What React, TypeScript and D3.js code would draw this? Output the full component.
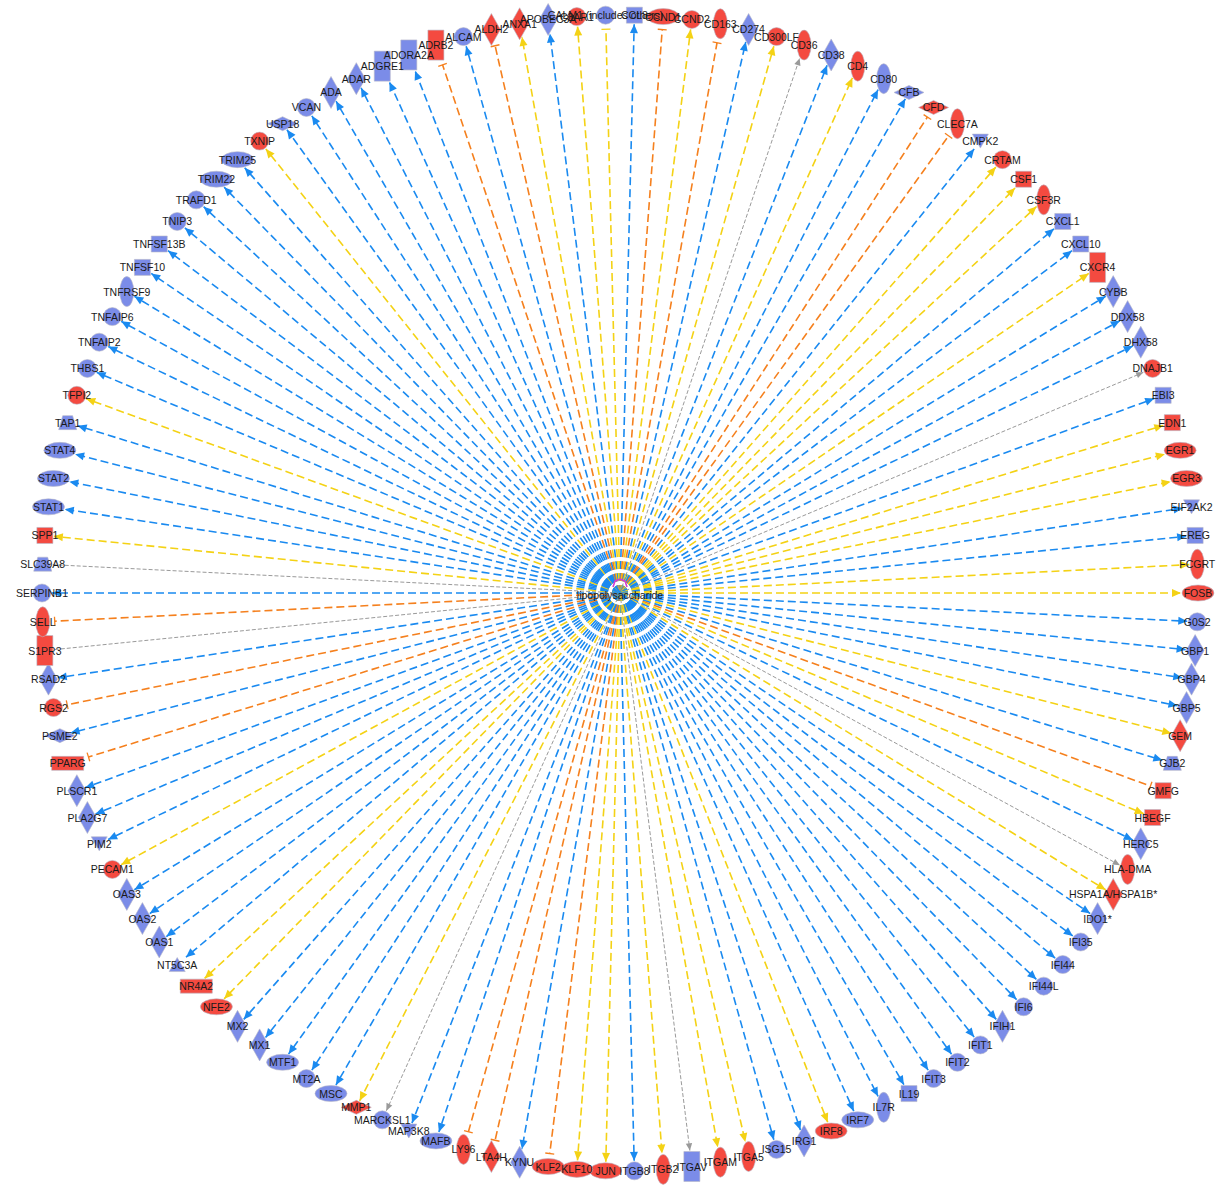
import React, { useEffect, useRef } from 'react';
import * as d3 from 'd3';

// nodes clockwise, starting at ADA (upper left)
const genes = [
  'ADA', 'ADAR', 'ADGRE1', 'ADORA2A', 'ADRB2', 'ALCAM', 'ALDH2', 'ANXA1', 'APOBEC3A', 'C3AR1',
  'CALM1 (includes others)', 'CCL8', 'CCND1', 'CCND2', 'CD163', 'CD274', 'CD300LF', 'CD36', 'CD38', 'CD4',
  'CD80', 'CFB', 'CFD', 'CLEC7A', 'CMPK2', 'CRTAM', 'CSF1', 'CSF3R', 'CXCL1', 'CXCL10',
  'CXCR4', 'CYBB', 'DDX58', 'DHX58', 'DNAJB1', 'EBI3', 'EDN1', 'EGR1', 'EGR3', 'EIF2AK2',
  'EREG', 'FCGRT', 'FOSB', 'G0S2', 'GBP1', 'GBP4', 'GBP5', 'GEM', 'GJB2', 'GMFG',
  'HBEGF', 'HERC5', 'HLA-DMA', 'HSPA1A/HSPA1B*', 'IDO1*', 'IFI35', 'IFI44', 'IFI44L', 'IFI6', 'IFIH1',
  'IFIT1', 'IFIT2', 'IFIT3', 'IL19', 'IL7R', 'IRF7', 'IRF8', 'IRG1', 'ISG15', 'ITGA5',
  'ITGAM', 'ITGAV', 'ITGB2', 'ITGB8', 'JUN', 'KLF10', 'KLF2', 'KYNU', 'LTA4H', 'LY96',
  'MAFB', 'MAP3K8', 'MARCKSL1', 'MMP1', 'MSC', 'MT2A', 'MTF1', 'MX1', 'MX2', 'NFE2',
  'NR4A2', 'NT5C3A', 'OAS1', 'OAS2', 'OAS3', 'PECAM1', 'PIM2', 'PLA2G7', 'PLSCR1', 'PPARG',
  'PSME2', 'RGS2', 'RSAD2', 'S1PR3', 'SELL', 'SERPINB1', 'SLC39A8', 'SPP1', 'STAT1', 'STAT2',
  'STAT4', 'TAP1', 'TFPI2', 'THBS1', 'TNFAIP2', 'TNFAIP6', 'TNFRSF9', 'TNFSF10', 'TNFSF13B', 'TNIP3',
  'TRAFD1', 'TRIM22', 'TRIM25', 'TXNIP', 'USP18', 'VCAN',
];

// u = up (red), d = down (blue)
const regulation = [
  'd', 'd', 'd', 'd', 'u', 'd', 'u', 'u', 'd', 'u',
  'd', 'd', 'u', 'u', 'u', 'd', 'u', 'u', 'd', 'u',
  'd', 'd', 'u', 'u', 'd', 'u', 'u', 'u', 'd', 'd',
  'u', 'd', 'd', 'd', 'u', 'd', 'u', 'u', 'u', 'd',
  'd', 'u', 'u', 'd', 'd', 'd', 'd', 'u', 'd', 'u',
  'u', 'd', 'u', 'u', 'd', 'd', 'd', 'd', 'd', 'd',
  'd', 'd', 'd', 'd', 'd', 'd', 'u', 'd', 'd', 'u',
  'u', 'd', 'u', 'd', 'u', 'u', 'u', 'd', 'u', 'u',
  'd', 'd', 'd', 'u', 'd', 'd', 'd', 'd', 'd', 'u',
  'u', 'd', 'd', 'd', 'd', 'u', 'd', 'd', 'd', 'u',
  'd', 'u', 'd', 'u', 'u', 'd', 'd', 'u', 'd', 'd',
  'd', 'd', 'u', 'd', 'd', 'd', 'd', 'd', 'd', 'd',
  'd', 'd', 'd', 'u', 'd', 'd',
];

// c circle, d diamond, hd flat diamond, vr/hr rectangles, sq square,
// vo/ho ovals, td/tu triangles, tz trapezoid
const shapes = [
  'd', 'd', 'vr', 'vr', 'vr', 'c', 'd', 'd', 'd', 'c',
  'c', 'sq', 'ho', 'c', 'vo', 'd', 'c', 'vo', 'd', 'vo',
  'vo', 'hd', 'hd', 'vo', 'td', 'c', 'sq', 'vo', 'sq', 'sq',
  'vr', 'd', 'd', 'd', 'c', 'sq', 'sq', 'ho', 'ho', 'td',
  'sq', 'vo', 'ho', 'c', 'd', 'd', 'd', 'd', 'tz', 'sq',
  'sq', 'd', 'vo', 'd', 'd', 'c', 'c', 'c', 'c', 'd',
  'c', 'c', 'c', 'sq', 'vo', 'ho', 'ho', 'd', 'c', 'vo',
  'vo', 'vr', 'vo', 'c', 'ho', 'ho', 'ho', 'd', 'd', 'vo',
  'ho', 'td', 'c', 'hd', 'ho', 'c', 'ho', 'd', 'd', 'ho',
  'hr', 'tu', 'd', 'd', 'd', 'c', 'td', 'd', 'd', 'hr',
  'hd', 'c', 'd', 'vr', 'vo', 'c', 'tz', 'sq', 'ho', 'ho',
  'ho', 'tz', 'c', 'c', 'c', 'c', 'vo', 'sq', 'sq', 'c',
  'c', 'ho', 'ho', 'c', 'hd', 'c',
];

// ba blue arrow, ot orange bar, ya yellow arrow, yt yellow bar, ga grey arrow, gn grey line
const relations = [
  'ba', 'ba', 'ba', 'ba', 'ot', 'ba', 'ot', 'ya', 'ba', 'ya',
  'yt', 'ba', 'ot', 'ya', 'ot', 'ba', 'ya', 'ga', 'ba', 'ya',
  'ba', 'ba', 'ot', 'ot', 'ba', 'ya', 'ya', 'ya', 'ba', 'ba',
  'ya', 'ba', 'ba', 'ba', 'ga', 'ba', 'ya', 'ya', 'ya', 'ba',
  'ba', 'ya', 'ya', 'ba', 'ba', 'ba', 'ba', 'ya', 'ba', 'ot',
  'ya', 'ba', 'ga', 'ya', 'ba', 'ba', 'ba', 'ba', 'ba', 'ba',
  'ba', 'ba', 'ba', 'ba', 'ba', 'ba', 'ya', 'ba', 'ba', 'ya',
  'ya', 'ga', 'ya', 'ba', 'ya', 'ya', 'ot', 'ba', 'ot', 'ot',
  'ba', 'ba', 'ga', 'ya', 'ba', 'ba', 'ba', 'ba', 'ba', 'ya',
  'ya', 'ba', 'ba', 'ba', 'ba', 'ya', 'ba', 'ba', 'ba', 'ot',
  'ba', 'ot', 'ba', 'gn', 'ot', 'ba', 'gn', 'ya', 'ba', 'ba',
  'ba', 'ba', 'ya', 'ba', 'ba', 'ba', 'ba', 'ba', 'ba', 'ba',
  'ba', 'ba', 'ba', 'ya', 'ba', 'ba',
];

const centerLabel = 'lipopolysaccharide';

const W = 1222;
const H = 1186;
const cx = 620;
const cy = 593;
const R = 578;

// half width, half height
const shapeSize: Record<string, [number, number]> = {
  c: [9, 9], d: [9, 16], hd: [15, 7], vr: [8, 15], hr: [16, 7], sq: [8, 8],
  vo: [7, 15], ho: [16, 8], td: [8, 7], tu: [8, 7], tz: [9, 7],
};

function shapePath(s: string) {
  const [w, h] = shapeSize[s];
  if (s === 'c' || s === 'vo' || s === 'ho')
    return `M${-w},0A${w},${h} 0 1,0 ${w},0A${w},${h} 0 1,0 ${-w},0Z`;
  if (s === 'd' || s === 'hd') return `M0,${-h}L${w},0L0,${h}L${-w},0Z`;
  if (s === 'td') return `M${-w},${-h}L${w},${-h}L0,${h}Z`;
  if (s === 'tu') return `M0,${-h}L${w},${h}L${-w},${h}Z`;
  if (s === 'tz') return `M${-w * 0.55},${-h}L${w * 0.55},${-h}L${w},${h}L${-w},${h}Z`;
  return `M${-w},${-h}H${w}V${h}H${-w}Z`;
}

// distance from node centre to its outline along (ux, uy)
function boundary(s: string, ux: number, uy: number) {
  const [w, h] = shapeSize[s];
  const ax = Math.abs(ux), ay = Math.abs(uy);
  if (s === 'c' || s === 'vo' || s === 'ho') return 1 / Math.sqrt((ax / w) ** 2 + (ay / h) ** 2);
  if (s === 'd' || s === 'hd') return 1 / (ax / w + ay / h);
  return Math.min(ax > 1e-6 ? w / ax : Infinity, ay > 1e-6 ? h / ay : Infinity);
}

export default function App() {
  const ref = useRef<SVGSVGElement>(null);

  useEffect(() => {
    if (!ref.current) return;
    const svg = d3.select(ref.current);
    svg.selectAll('*').remove();

    const n = genes.length;
    const step = (2 * Math.PI) / n;
    // index 10.5 sits straight up
    const angle = d3.scaleLinear().domain([0, n]).range([Math.PI / 2 + 10.5 * step, Math.PI / 2 + 10.5 * step - 2 * Math.PI]);

    const nodeColor = d3.scaleOrdinal<string>().domain(['u', 'd']).range(['#f44a40', '#7b8ce8']);
    const edgeColor = d3.scaleOrdinal<string>()
      .domain(['ba', 'ot', 'ya', 'yt', 'ga', 'gn'])
      .range(['#1a8af0', '#f5801e', '#f4d215', '#f4d215', '#9a9a9a', '#9a9a9a']);

    const nodes = genes.map((g, i) => {
      const a = angle(i);
      const ux = Math.cos(a);
      const uy = -Math.sin(a);
      const rel = relations[i];
      const isBar = rel === 'ot' || rel === 'yt';
      const end = R - boundary(shapes[i], ux, uy) - (isBar ? 5 : 1);
      return {
        name: g, ux, uy, rel, shape: shapes[i], reg: regulation[i],
        x: cx + R * ux, y: cy + R * uy,
        ex: cx + end * ux, ey: cy + end * uy,
      };
    });

    const defs = svg.append('defs');
    const markerOf = (rel: string) => (rel === 'gn' ? null : `m-${rel}`);
    ['ba', 'ya', 'ga'].forEach(rel => {
      const small = rel === 'ga';
      defs.append('marker')
        .attr('id', `m-${rel}`)
        .attr('viewBox', '-10 -5 10 10')
        .attr('refX', 0).attr('refY', 0)
        .attr('markerUnits', 'userSpaceOnUse')
        .attr('markerWidth', small ? 8 : 10).attr('markerHeight', small ? 8 : 10)
        .attr('orient', 'auto')
        .append('path')
        .attr('d', 'M-9,-4L0,0L-9,4Z')
        .attr('fill', edgeColor(rel));
    });
    ['ot', 'yt'].forEach(rel => {
      defs.append('marker')
        .attr('id', `m-${rel}`)
        .attr('viewBox', '-2 -5 4 10')
        .attr('refX', 0).attr('refY', 0)
        .attr('markerUnits', 'userSpaceOnUse')
        .attr('markerWidth', 4).attr('markerHeight', 10)
        .attr('orient', 'auto')
        .append('path')
        .attr('d', 'M0,-4.5L0,4.5')
        .attr('stroke', edgeColor(rel))
        .attr('stroke-width', 1.3);
    });

    svg.append('g')
      .selectAll('line')
      .data(nodes)
      .join('line')
      .attr('x1', cx).attr('y1', cy)
      .attr('x2', d => d.ex).attr('y2', d => d.ey)
      .attr('stroke', d => edgeColor(d.rel))
      .attr('stroke-width', d => (d.rel[0] === 'g' ? 1 : 1.6))
      .attr('stroke-dasharray', d => (d.rel[0] === 'g' ? '4,2' : '8,4'))
      .attr('marker-end', d => {
        const m = markerOf(d.rel);
        return m ? `url(#${m})` : null;
      });

    svg.append('g')
      .selectAll('path')
      .data(nodes)
      .join('path')
      .attr('transform', d => `translate(${d.x},${d.y})`)
      .attr('d', d => shapePath(d.shape))
      .attr('fill', d => nodeColor(d.reg))
      .attr('stroke', '#b8b8c8')
      .attr('stroke-width', 0.6);

    svg.append('g')
      .selectAll('text')
      .data(nodes)
      .join('text')
      .attr('x', d => d.x)
      .attr('y', d => d.y)
      .attr('text-anchor', 'middle')
      .attr('dominant-baseline', 'central')
      .attr('font-family', '"Liberation Sans", Arial, sans-serif')
      .attr('font-size', '10.5px')
      .attr('fill', '#1a1a1a')
      .text(d => d.name);

    // centre node
    svg.append('path')
      .attr('transform', `translate(${cx},${cy - 9})`)
      .attr('d', 'M-7,3L-5,-3L0,-5L5,-3L7,3')
      .attr('fill', 'none')
      .attr('stroke', '#d23cd2')
      .attr('stroke-width', 1.6);

    svg.append('text')
      .attr('x', cx)
      .attr('y', cy + 2)
      .attr('text-anchor', 'middle')
      .attr('dominant-baseline', 'central')
      .attr('font-family', '"Liberation Sans", Arial, sans-serif')
      .attr('font-size', '10.5px')
      .attr('fill', '#1a1a1a')
      .text(centerLabel);
  }, []);

  return (
    <div style={{ position: 'absolute', left: 0, top: 0, background: '#fff' }}>
      <svg ref={ref} width={W} height={H} style={{ display: 'block' }} />
    </div>
  );
}
